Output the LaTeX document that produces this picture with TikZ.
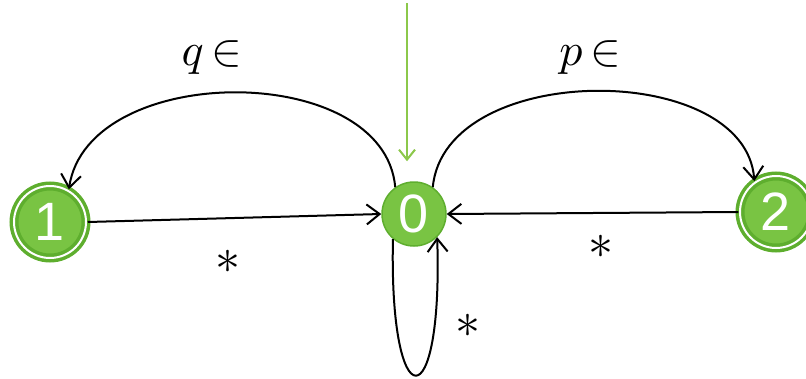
\documentclass[tikz,border=0pt]{standalone}
\usepackage{graphicx}
\usepackage{fontspec}
\newfontfamily\digitfont{Liberation Sans}
\usetikzlibrary{arrows.meta}
\definecolor{fillgreen}{HTML}{79C443}
\definecolor{ringgreen}{HTML}{5EAE2E}
\definecolor{initgreen}{HTML}{8CC84B}
\tikzset{
  state/.style={circle, fill=fillgreen, draw=ringgreen, line width=1.5pt, minimum size=64pt, inner sep=0pt,
     text=white, font=\digitfont\fontsize{54}{54}\selectfont},
  accstate/.style={circle, fill=fillgreen, draw=ringgreen, line width=3.5pt, double=white, double distance=2pt,
     minimum size=72pt, inner sep=0pt, text=white, font=\digitfont\fontsize{54}{54}\selectfont},
  arr/.style={draw=black, line width=2pt, -{Straight Barb[length=13pt,width=20pt,line width=2pt]}},
  initarr/.style={draw=initgreen, line width=2pt, -{Straight Barb[length=10pt,width=16pt,line width=2pt]}},
  lbl/.style={inner sep=0pt},
}
\begin{document}
\begin{tikzpicture}[x=1pt,y=-1pt]
\useasboundingbox (0,0) rectangle (806,378);
\node[state] (n0) at (414,214) {0};
\node[accstate] (n1) at (50,222) {1};
\node[accstate] (n2) at (776,212) {2};
\coordinate (init) at (407,3);
\draw[initarr, shorten >=20pt] (init) -- (init |- n0.north);
\draw[arr] (n1.east) -- (n0.west);
\draw[arr] (n2.west) -- (n0.east);
\draw[arr] (n0.125) .. controls +(-11,-127) and +(19,-128) .. (n1.60);
\draw[arr] (n0.55) .. controls +(12,-127) and +(-9,-121) .. (n2.125);
\draw[arr] (n0.230) .. controls +(-4,182) and +(6,184) .. (n0.-45);
\node[lbl] (lq) at (212,58) {\scalebox{4.6}{$q\mkern3mu{\in}$}};
\node[lbl] (lp) at (590,58) {\scalebox{4.6}{$p\mkern3mu{\in}$}};
\node[lbl] (s1) at (228,262) {\scalebox{5}{$\ast$}};
\node[lbl] (s2) at (601,247) {\scalebox{5}{$\ast$}};
\node[lbl] (s3) at (468,326) {\scalebox{5}{$\ast$}};
\end{tikzpicture}
\end{document}
